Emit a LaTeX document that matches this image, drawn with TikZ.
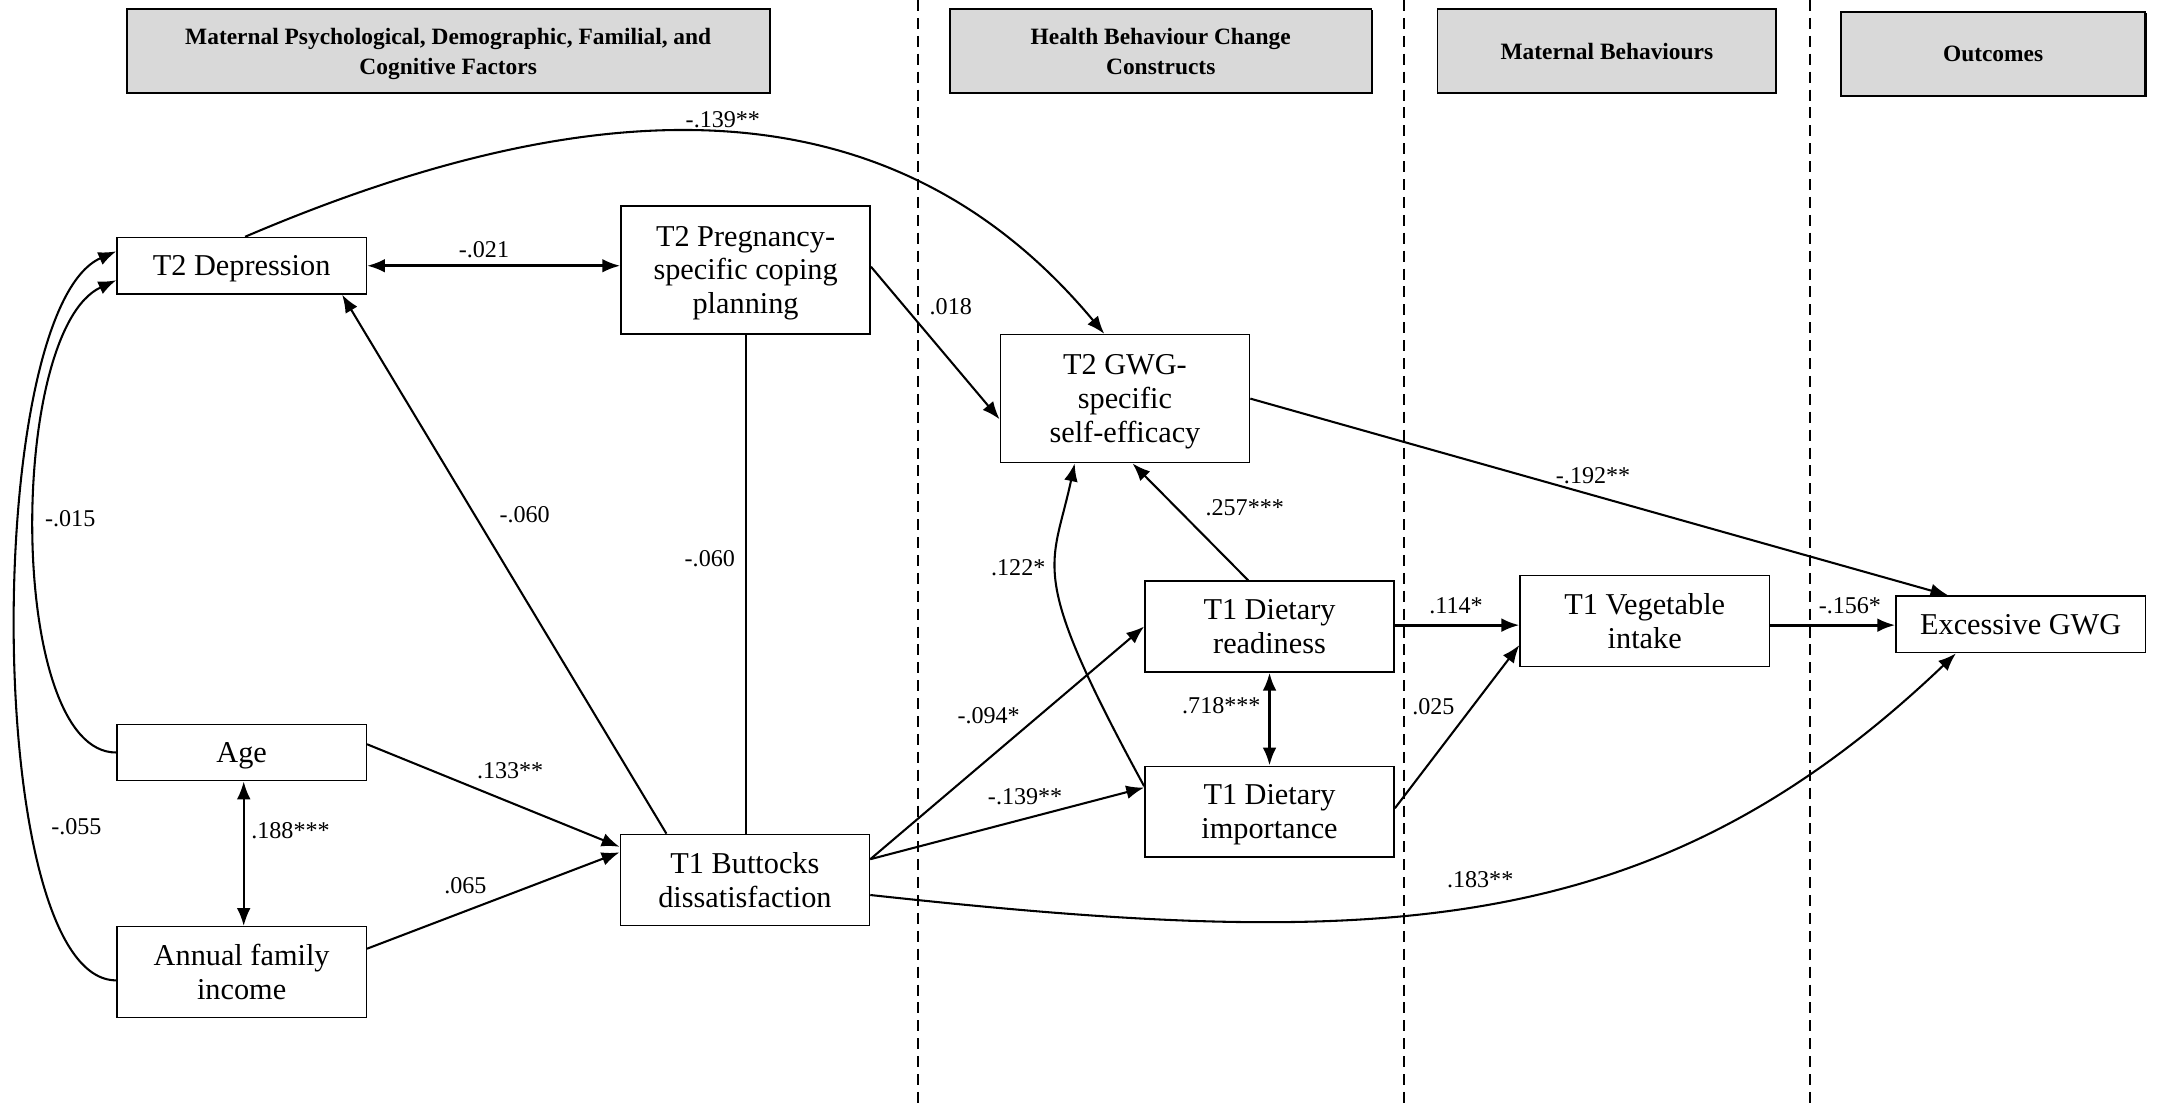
\documentclass[tikz,border=0pt]{standalone}
\usepackage{fontspec}
\setmainfont{Liberation Serif}
\usetikzlibrary{arrows.meta,calc,shadows}
\definecolor{hdrgray}{HTML}{D9D9D9}
\begin{document}
\begin{tikzpicture}[x=1pt,y=-1pt,
  box/.style={draw, line width=1.1pt, minimum width=181pt, align=center, inner sep=0pt, text depth=0pt, font=\fontsize{22}{24.5}\selectfont},
  hdr/.style={draw, fill=hdrgray, line width=1.3pt, align=center, inner sep=0pt, text depth=0pt, minimum height=61pt, font=\fontsize{17}{21.8}\selectfont\bfseries,
    drop shadow={shadow xshift=0.9pt, shadow yshift=-0.9pt, fill=black, opacity=1}},
  lbl/.style={inner sep=0pt, font=\fontsize{17.5}{20}\selectfont},
  plain/.style={line width=1.5pt},
  arr/.style={line width=1.5pt, -{Latex[length=13pt,width=10pt]}},
  arrthick/.style={line width=2pt, -{Latex[length=13pt,width=10pt]}},
  dbl/.style={line width=1.5pt, {Latex[length=13pt,width=10pt]}-{Latex[length=13pt,width=10pt]}},
  dblthick/.style={line width=2pt, {Latex[length=13pt,width=10pt]}-{Latex[length=13pt,width=10pt]}},
  sep/.style={line width=1.2pt, dash pattern=on 8pt off 5pt}
]
\useasboundingbox (0,0) rectangle (1568,801);
\fill[white] (0,0) rectangle (1568,801);

% separators
\draw[sep] (666.5,0) -- (666.5,801);
\draw[sep] (1019.5,0) -- (1019.5,801);
\draw[sep] (1314.5,0) -- (1314.5,801);

% headers
\node[hdr, minimum width=467pt] (h1) at (325.5,37) {Maternal Psychological, Demographic, Familial, and\\Cognitive Factors};
\node[hdr, minimum width=306pt] (h2) at (843,37) {Health Behaviour Change\\Constructs};
\node[hdr, minimum width=246pt] (h3) at (1167,37) {Maternal Behaviours};
\node[hdr, minimum width=221pt] (h4) at (1447.5,39) {Outcomes};

% boxes
\node[box, minimum height=41pt] (dep) at (175.5,193) {T2 Depression};
\node[box, minimum height=93pt] (cope) at (541.5,196) {T2 Pregnancy-\\specific coping\\planning};
\node[box, minimum height=93pt] (gwg) at (817,289.5) {T2 GWG-\\specific\\self-efficacy};
\node[box, minimum height=41pt] (age) at (175.5,546.5) {Age};
\node[box, minimum height=66pt] (inc) at (175.5,706) {Annual family\\income};
\node[box, minimum height=66pt] (butt) at (541,639) {T1 Buttocks\\dissatisfaction};
\node[box, minimum height=66pt] (ready) at (922,455) {T1 Dietary\\readiness};
\node[box, minimum height=66pt] (imp) at (922,589.5) {T1 Dietary\\importance};
\node[box, minimum height=66pt] (veg) at (1194.5,451) {T1 Vegetable\\intake};
\node[box, minimum height=41pt] (exc) at (1467.5,453.5) {Excessive GWG};

% connectors
\draw[arr] ([xshift=2.5pt]dep.north) .. controls (440,60) and (650,60) .. ([xshift=-15pt]gwg.north);
\draw[dblthick] (dep.east) -- (dep.east -| cope.west);
\draw[arr] ([xshift=-57pt]butt.north) -- ([xshift=73pt]dep.south);
\draw[plain] (cope.south) -- (cope.south |- butt.north);
\draw[arr] ([yshift=2.3pt]cope.east) -- ([yshift=-15pt]gwg.west);
\draw[arr] (age.west) .. controls (5,547) and (5,240) .. ([yshift=-10.5pt]dep.west);
\draw[arr] ([yshift=-6pt]inc.west) .. controls (-13,712) and (-13,225) .. ([yshift=10.5pt]dep.west);
\draw[dbl] ([xshift=1.5pt]age.south) -- ([xshift=1.5pt]inc.north);
\draw[arr] ([yshift=6pt]age.east) -- ([yshift=24pt]butt.west);
\draw[arr] ([yshift=17pt]inc.east) -- ([yshift=20pt]butt.west);
\draw[arr] ([yshift=15pt]butt.east) -- (ready.west);
\draw[arr] ([yshift=15pt]butt.east) -- ([yshift=17.5pt]imp.west);
\draw[arr] ([yshift=-11pt]butt.east) .. controls (1000,690) and (1200,685) .. ([xshift=-47pt]exc.south);
\draw[arr] ([yshift=18.5pt]imp.west) .. controls (745,413) and (764,414) .. ([xshift=-36.5pt]gwg.south);
\draw[arr] ([xshift=-15.5pt]ready.north) -- ([xshift=5.5pt]gwg.south);
\draw[dblthick] (ready.south) -- (imp.north);
\draw[arrthick] ([yshift=1pt]ready.east) -- ([yshift=1pt]ready.east -| veg.west);
\draw[arr] ([yshift=2.5pt]imp.east) -- ([yshift=-17.5pt]veg.west);
\draw[arrthick] ([yshift=-3pt]veg.east) -- ([yshift=-3pt]veg.east -| exc.west);
\draw[arr] (gwg.east) -- ([xshift=-52.5pt]exc.north);

% labels
\node[lbl] (l1) at (525,87) {-.139**};
\node[lbl] (l2) at (351.5,181) {-.021};
\node[lbl] (l3) at (690.5,222.5) {.018};
\node[lbl] (l4) at (381,373.5) {-.060};
\node[lbl] (l5) at (515.5,406) {-.060};
\node[lbl] (l6) at (51,377) {-.015};
\node[lbl] (l7) at (55.5,600) {-.055};
\node[lbl] (l8) at (370.5,560) {.133**};
\node[lbl] (l9) at (211,603) {.188***};
\node[lbl] (l10) at (338,643.5) {.065};
\node[lbl] (l11) at (718,520) {-.094*};
\node[lbl] (l12) at (744.5,578.5) {-.139**};
\node[lbl] (l13) at (739.5,412) {.122*};
\node[lbl] (l14) at (904,368.5) {.257***};
\node[lbl] (l15) at (887,512.5) {.718***};
\node[lbl] (l16) at (1057.5,440) {.114*};
\node[lbl] (l17) at (1041,513) {.025};
\node[lbl] (l18) at (1343.5,440) {-.156*};
\node[lbl] (l19) at (1157,345.5) {-.192**};
\node[lbl] (l20) at (1075,638.5) {.183**};
\end{tikzpicture}
\end{document}
